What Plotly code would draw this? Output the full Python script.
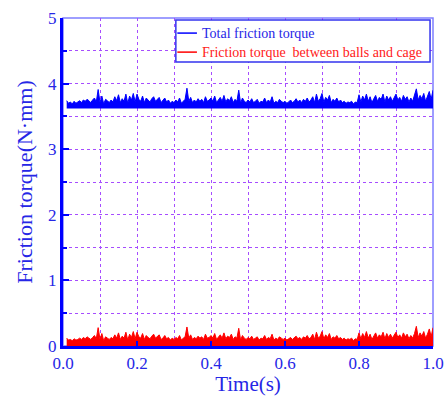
import numpy as np
import plotly.graph_objects as go

# Time samples (s)
t_start, t_end, n_samples = 0.01, 1.0, 199
time_s = np.linspace(t_start, t_end, n_samples)

total_torque = [
    3.74,3.70,3.72,3.69,3.73,3.70,3.72,3.74,3.71,3.75,3.73,3.76,3.74,3.71,3.75,3.78,3.72,3.91,
    3.71,3.81,3.69,3.76,3.74,3.71,3.75,3.72,3.80,3.74,3.83,3.71,3.77,3.73,3.84,3.70,3.81,3.75,3.85,3.72,
    3.84,3.76,3.73,3.81,3.71,3.78,3.75,3.72,3.77,3.80,3.73,3.76,3.79,3.71,3.74,3.78,3.72,3.75,3.70,3.73,
    3.71,3.75,3.72,3.78,3.70,3.74,3.76,3.93,3.73,3.79,3.71,3.75,3.72,3.77,3.73,3.76,3.71,3.80,3.73,3.75,
    3.78,3.73,3.81,3.71,3.76,3.79,3.73,3.82,3.72,3.77,3.74,3.80,3.71,3.76,3.73,3.90,3.70,3.78,3.73,3.71,
    3.75,3.72,3.77,3.71,3.73,3.76,3.70,3.73,3.72,3.78,3.71,3.75,3.72,3.80,3.70,3.73,3.71,3.76,3.73,3.71,
    3.73,3.70,3.72,3.75,3.71,3.73,3.77,3.72,3.75,3.71,3.76,3.73,3.78,3.72,3.75,3.80,3.71,3.84,3.73,3.77,
    3.85,3.72,3.79,3.75,3.82,3.71,3.76,3.73,3.78,3.72,3.75,3.71,3.73,3.70,3.72,3.71,3.73,3.69,3.72,3.71,
    3.83,3.72,3.81,3.75,3.84,3.73,3.80,3.71,3.77,3.82,3.73,3.79,3.76,3.84,3.72,3.81,3.75,3.80,3.73,3.78,
    3.84,3.75,3.79,3.73,3.82,3.76,3.80,3.72,3.78,3.73,3.81,3.92,3.75,3.82,3.77,3.85,3.73,3.80,3.88,3.76,3.90,
]

cage_torque = [
    0.12,0.09,0.10,0.08,0.11,0.09,0.10,0.12,0.10,0.13,0.11,0.14,0.12,0.10,0.13,0.16,0.11,0.28,
    0.10,0.19,0.08,0.14,0.12,0.10,0.13,0.11,0.17,0.12,0.20,0.10,0.15,0.12,0.21,0.09,0.18,0.13,0.22,0.11,
    0.21,0.14,0.12,0.19,0.10,0.16,0.13,0.11,0.15,0.18,0.12,0.14,0.17,0.10,0.12,0.16,0.11,0.13,0.09,0.12,
    0.10,0.13,0.11,0.16,0.09,0.12,0.14,0.29,0.12,0.17,0.10,0.13,0.11,0.15,0.12,0.14,0.10,0.18,0.12,0.13,
    0.16,0.12,0.19,0.10,0.14,0.17,0.12,0.20,0.11,0.15,0.13,0.18,0.10,0.14,0.12,0.27,0.09,0.16,0.12,0.10,
    0.13,0.11,0.15,0.10,0.12,0.14,0.09,0.12,0.11,0.16,0.10,0.13,0.11,0.18,0.09,0.12,0.10,0.14,0.12,0.10,
    0.12,0.09,0.11,0.13,0.10,0.12,0.15,0.11,0.13,0.10,0.14,0.12,0.16,0.11,0.13,0.18,0.10,0.21,0.12,0.15,
    0.22,0.11,0.17,0.13,0.19,0.10,0.14,0.12,0.16,0.11,0.13,0.10,0.12,0.09,0.11,0.10,0.12,0.08,0.11,0.10,
    0.20,0.11,0.19,0.13,0.22,0.12,0.18,0.10,0.15,0.20,0.12,0.17,0.14,0.21,0.11,0.19,0.13,0.18,0.12,0.16,
    0.21,0.13,0.17,0.12,0.20,0.14,0.18,0.11,0.16,0.12,0.19,0.30,0.13,0.20,0.15,0.22,0.12,0.18,0.26,0.14,0.28,
]

total_floor = 3.62

series_names = ["Total friction torque", "Friction torque&nbsp;&nbsp;between balls and cage"]
series_colors = ["#0000ff", "#ff0000"]
series_text_colors = ["#2626e6", "#ff2020"]

x_ticks = [0.0, 0.2, 0.4, 0.6, 0.8, 1.0]
x_tick_labels = ["0.0", "0.2", "0.4", "0.6", "0.8", "1.0"]
y_ticks = [0, 1, 2, 3, 4, 5]
y_tick_labels = ["0", "1", "2", "3", "4", "5"]

BLUE = "#0000ff"
RED = "#ff0000"
TXT = "#2626e6"
GRID = "#a64dff"
FONT = "Liberation Serif"

fig = go.Figure()

fig.add_trace(go.Scatter(
    x=time_s, y=[total_floor] * len(time_s), mode="lines",
    line=dict(width=0, color=BLUE), showlegend=False, hoverinfo="skip"))
fig.add_trace(go.Scatter(
    x=time_s, y=total_torque, mode="lines", fill="tonexty", fillcolor=BLUE,
    line=dict(width=1, color=BLUE), showlegend=False, name="Total friction torque"))
fig.add_trace(go.Scatter(
    x=time_s, y=cage_torque, mode="lines", fill="tozeroy", fillcolor=RED,
    line=dict(width=1, color=RED), showlegend=False, name="Friction torque between balls and cage"))

# Hand-built legend (box, line samples, labels) in paper coordinates
leg_x0, leg_x1, leg_y0, leg_y1 = 0.305, 0.992, 0.866, 0.994
row_y = [0.954, 0.896]
shapes = [
    dict(type="rect", xref="paper", yref="paper", x0=0, x1=1, y0=0, y1=1,
         line=dict(color="#7f7fff", width=1.5), layer="below"),
    dict(type="rect", xref="paper", yref="paper", x0=leg_x0, x1=leg_x1, y0=leg_y0, y1=leg_y1,
         line=dict(color="#3333ee", width=1.5), fillcolor="white", layer="above"),
]
annotations = []
for name, col, tcol, yy in zip(series_names, series_colors, series_text_colors, row_y):
    shapes.append(dict(type="line", xref="paper", yref="paper", x0=0.309, x1=0.362, y0=yy, y1=yy,
                       line=dict(color=col, width=1.5), layer="above"))
    annotations.append(dict(xref="paper", yref="paper", x=0.371, y=yy, xanchor="left", yanchor="middle",
                            text=name, showarrow=False,
                            font=dict(family=FONT, size=14, color=tcol)))

fig.update_layout(
    width=446, height=396,
    margin=dict(l=63, r=13, t=18, b=50, autoexpand=False),
    paper_bgcolor="white", plot_bgcolor="white",
    font=dict(family=FONT, color=TXT),
    showlegend=False,
    shapes=shapes,
    annotations=annotations,
)

fig.update_xaxes(
    range=[0, 1], tickvals=x_ticks, ticktext=x_tick_labels, automargin=False,
    tickfont=dict(size=17, family=FONT, color=TXT),
    showline=True, linecolor=BLUE, linewidth=3,
    ticks="inside", ticklen=5, tickwidth=2, tickcolor=BLUE,
    showgrid=True, gridcolor=GRID, griddash="3px,3px", gridwidth=1,
    minor=dict(dtick=0.1, showgrid=True, gridcolor=GRID, griddash="3px,3px", gridwidth=1),
    zeroline=False,
    title=dict(text="Time(s)", font=dict(size=21, family=FONT, color=TXT), standoff=2),
)
fig.update_yaxes(
    range=[0, 5], tickvals=y_ticks, ticktext=y_tick_labels, automargin=False,
    tickfont=dict(size=17, family=FONT, color=TXT),
    showline=True, linecolor=BLUE, linewidth=3,
    ticks="inside", ticklen=6, tickwidth=2, tickcolor=BLUE,
    showgrid=True, gridcolor=GRID, griddash="3px,3px", gridwidth=1,
    minor=dict(dtick=0.5, ticks="inside", ticklen=4, tickwidth=2, tickcolor=BLUE,
               showgrid=True, gridcolor=GRID, griddash="3px,3px", gridwidth=1),
    zeroline=False,
    title=dict(text="Friction torque(N·mm)", font=dict(size=22, family=FONT, color=TXT), standoff=10),
)

fig.write_html("out.html")
